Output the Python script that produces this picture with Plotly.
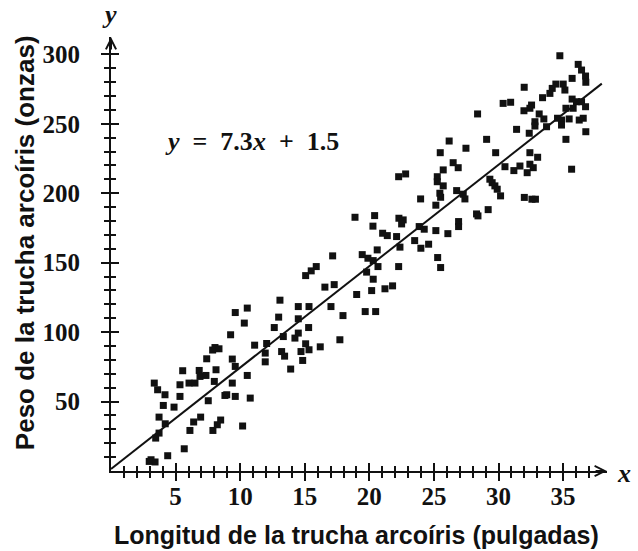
import plotly.graph_objects as go

# ---- data ----
length_in = [3.35, 3.61, 4.18, 4.05, 4.88, 3.72, 4.20, 3.72, 3.46, 3.10, 3.41, 2.96, 4.39, 5.67, 6.11,
             6.40, 6.94, 7.89, 8.23, 8.49, 5.34, 5.34, 5.55, 6.04, 6.50, 6.83, 6.89, 7.35, 7.53, 8.00,
             8.13, 7.41, 7.87, 8.05, 8.36, 8.82, 8.96, 9.62, 9.39, 9.39, 9.62, 9.26, 9.62,
             18.89, 20.41, 20.28, 17.16, 15.89, 15.50, 15.07, 19.45, 19.89, 20.30, 20.61, 20.67, 19.79,
             20.30, 20.18, 19.02, 17.28, 16.56, 13.08,
             10.55, 14.50, 15.33, 17.03, 17.96, 19.68, 20.49, 10.32, 12.98, 14.50, 12.64, 15.30, 13.34,
             14.50, 14.24, 11.12, 12.05, 11.94, 11.94, 13.21, 13.44, 15.07, 15.33, 14.71, 14.84, 16.20,
             17.72, 13.91, 10.55, 10.78, 10.19,
             30.36, 30.94, 28.38, 31.40, 26.18, 29.08, 25.49, 27.48, 29.78, 26.49, 26.88, 22.27, 22.81,
             25.72, 25.26, 25.26, 25.72, 25.46, 25.52, 26.76, 27.27, 27.40, 23.97, 25.15, 30.50, 31.19,
             29.33, 29.51, 29.72, 29.90, 30.16,
             28.30, 28.41, 29.20, 26.91, 26.91, 22.29, 22.62, 22.50, 21.03, 21.39, 22.11, 23.86, 24.25,
             25.15, 26.08, 23.51, 22.37, 23.99, 24.59, 25.29, 25.52, 22.27, 21.21, 21.80,
             34.75, 36.17, 36.43, 36.74, 36.76, 35.70, 31.99, 34.44, 35.01, 35.14, 34.16, 33.98, 33.41,
             35.70, 36.04, 36.43, 36.74, 35.78, 35.22, 32.56, 32.43, 31.97, 33.15, 33.51, 32.82, 32.82,
             33.72, 34.57, 34.88, 34.88, 35.47, 36.25, 36.56, 36.76, 32.38, 35.22,
             32.43, 33.03, 31.66, 32.43, 32.69, 32.22, 35.66, 32.00, 32.59, 32.86]

weight_oz = [63.3, 58.5, 54.9, 47.2, 46.0, 38.8, 34.0, 27.3, 23.7, 8.1, 6.5, 6.9, 11.0, 16.0, 29.2,
             35.3, 38.8, 29.2, 33.3, 36.7, 53.7, 62.1, 72.2, 63.3, 63.3, 72.4, 68.1, 68.8, 50.6, 64.5,
             72.9, 80.8, 87.1, 88.9, 88.0, 54.4, 54.9, 53.7, 63.3, 80.6, 75.3, 98.1, 114.1,
             182.7, 183.9, 176.3, 154.9, 147.2, 144.1, 140.7, 155.8, 153.2, 151.5, 159.2, 147.2, 143.2,
             138.1, 129.9, 127.1, 134.2, 132.4, 123.0,
             117.3, 118.4, 118.4, 118.4, 111.9, 114.8, 114.8, 106.5, 110.8, 109.6, 103.3, 103.3, 96.8,
             99.3, 95.7, 90.6, 91.8, 84.9, 78.6, 86.0, 82.7, 91.6, 87.3, 86.0, 79.6, 89.4,
             94.5, 73.4, 68.8, 52.5, 32.4,
             264.7, 265.5, 257.1, 246.0, 237.6, 238.8, 229.2, 232.4, 229.2, 222.0, 218.4, 211.9, 213.9,
             216.8, 211.9, 208.3, 205.3, 200.0, 197.1, 201.9, 199.3, 195.9, 195.9, 191.4, 219.1, 216.3,
             210.1, 207.6, 205.3, 202.9, 198.1,
             185.1, 183.7, 188.2, 179.6, 176.0, 182.0, 180.8, 177.9, 171.2, 169.5, 168.8, 176.0, 174.1,
             173.1, 170.9, 165.9, 161.2, 160.4, 163.3, 153.7, 146.5, 147.2, 131.2, 133.3,
             299.0, 292.8, 288.7, 284.4, 279.9, 282.7, 276.3, 278.6, 278.6, 274.3, 275.5, 271.9, 268.8,
             267.8, 265.9, 265.9, 262.3, 261.2, 261.2, 263.5, 261.2, 259.4, 257.1, 253.5, 251.5, 248.4,
             247.9, 254.0, 252.7, 249.1, 253.5, 252.7, 254.0, 244.3, 243.2, 238.8,
             229.2, 225.9, 219.6, 220.9, 218.4, 214.8, 217.3, 197.0, 195.7, 195.7]

slope = 7.3
intercept = 1.5
line_x = [0, 38]
line_y = [slope * v + intercept for v in line_x]

x_major = [5, 10, 15, 20, 25, 30, 35]
x_minor = list(range(1, 38))
y_major = [50, 100, 150, 200, 250, 300]
y_minor = list(range(10, 301, 10))

X_RANGE = [0, 38.4]
Y_RANGE = [0, 312.5]

SERIF = "Liberation Serif"
SANS = "Liberation Sans"
NB = "&nbsp;"

fig = go.Figure()
fig.add_trace(go.Scatter(
    x=length_in, y=weight_oz, mode="markers",
    marker=dict(symbol="square", size=7, color="#111111", line=dict(width=0)),
    hoverinfo="skip", showlegend=False, cliponaxis=False,
))
fig.add_trace(go.Scatter(
    x=line_x, y=line_y, mode="lines", xaxis="x2", yaxis="y2",
    line=dict(color="#111111", width=2), hoverinfo="skip", showlegend=False,
    cliponaxis=False,
))

tick_common = dict(tickcolor="#111111", tickwidth=2)
fig.update_layout(
    width=638, height=551,
    margin=dict(l=111, r=31, t=37, b=80),
    paper_bgcolor="white", plot_bgcolor="white",
    xaxis=dict(
        range=X_RANGE, showgrid=False, zeroline=False,
        showline=True, linecolor="#111111", linewidth=2,
        tickmode="array", tickvals=x_major, ticktext=[str(v) for v in x_major],
        ticks="outside", ticklen=8, **tick_common,
        minor=dict(tickmode="array", tickvals=x_minor, ticks="outside", ticklen=5,
                   tickcolor="#111111", tickwidth=2),
        tickfont=dict(family=SERIF, size=25, color="#111111", weight="bold"),
        ticklabelstandoff=-6,
    ),
    yaxis=dict(
        range=Y_RANGE, showgrid=False, zeroline=False,
        showline=True, linecolor="#111111", linewidth=2,
        tickmode="array", tickvals=y_major, ticktext=[str(v) for v in y_major],
        ticks="outside", ticklen=8, **tick_common,
        minor=dict(tickmode="array", tickvals=y_minor, ticks="outside", ticklen=5,
                   tickcolor="#111111", tickwidth=2),
        tickfont=dict(family=SERIF, size=25, color="#111111", weight="bold"),
        ticklabelstandoff=16,
    ),
    xaxis2=dict(
        range=X_RANGE, overlaying="x", anchor="y2", side="bottom",
        showgrid=False, zeroline=False, showline=False, showticklabels=False,
        tickmode="array", tickvals=x_major, ticks="inside", ticklen=8, **tick_common,
        minor=dict(tickmode="array", tickvals=x_minor, ticks="inside", ticklen=5,
                   tickcolor="#111111", tickwidth=2),
    ),
    yaxis2=dict(
        range=Y_RANGE, overlaying="y", anchor="x2", side="left",
        showgrid=False, zeroline=False, showline=False, showticklabels=False,
        tickmode="array", tickvals=y_major, ticks="inside", ticklen=8, **tick_common,
        minor=dict(tickmode="array", tickvals=y_minor, ticks="inside", ticklen=5,
                   tickcolor="#111111", tickwidth=2),
    ),
)

annotations = [
    # arrowheads at the ends of the axes
    dict(x=X_RANGE[1], y=0, ax=X_RANGE[1] - 1.0, ay=0, xref="x", yref="y", axref="x", ayref="y",
         text="", showarrow=True, arrowhead=5, arrowsize=1.0, arrowwidth=2, arrowcolor="#111111",
         standoff=0),
    dict(x=0, y=Y_RANGE[1], ax=0, ay=Y_RANGE[1] - 10, xref="x", yref="y", axref="x", ayref="y",
         text="", showarrow=True, arrowhead=5, arrowsize=1.0, arrowwidth=2, arrowcolor="#111111",
         standoff=0),
    # axis letters
    dict(x=X_RANGE[1], y=0, xref="x", yref="y", text="<i>x</i>", showarrow=False,
         xanchor="left", yanchor="middle", xshift=8, yshift=-2,
         font=dict(family=SERIF, size=26, color="#111111", weight="bold")),
    dict(x=0, y=Y_RANGE[1], xref="x", yref="y", text="<i>y</i>", showarrow=False,
         xanchor="center", yanchor="bottom", yshift=6, xshift=-2,
         font=dict(family=SERIF, size=26, color="#111111", weight="bold")),
    # equation
    dict(x=10.9, y=237, xref="x", yref="y",
         text=f"<i>y</i>{NB} ={NB} 7.3<i>x</i>{NB} +{NB} 1.5", showarrow=False,
         xanchor="center", yanchor="middle",
         font=dict(family=SERIF, size=26, color="#111111", weight="bold")),
    # axis titles
    dict(x=0.5, y=0, xref="paper", yref="paper", yshift=-64, xshift=-3,
         text="Longitud de la trucha arcoíris (pulgadas)", showarrow=False,
         xanchor="center", yanchor="middle",
         font=dict(family=SANS, size=25, color="#111111", weight="bold")),
    dict(x=0, y=0.525, xref="paper", yref="paper", xshift=-86,
         text="Peso de la trucha arcoíris (onzas)", showarrow=False, textangle=-90,
         xanchor="center", yanchor="middle",
         font=dict(family=SANS, size=26, color="#111111", weight="bold")),
]
fig.update_layout(annotations=annotations)

fig.write_html("out.html")
